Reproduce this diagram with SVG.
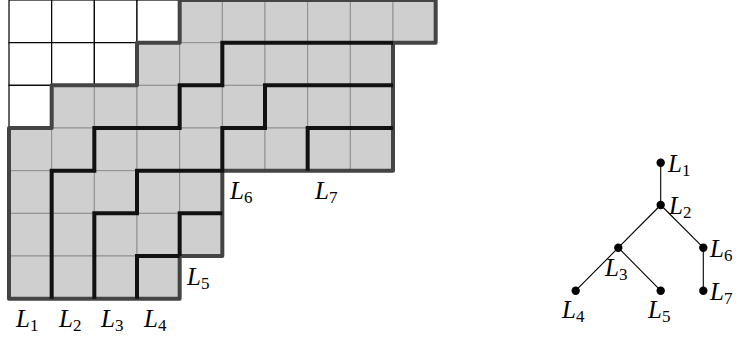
<svg xmlns="http://www.w3.org/2000/svg" width="738" height="339" viewBox="0 0 738 339">
<style>
.g{fill:#cfcfcf;stroke:#8f8f8f;stroke-width:1}
.w{fill:#fff;stroke:#000;stroke-width:1.2}
.bd{fill:none;stroke:#444;stroke-width:4;stroke-linejoin:round;stroke-linecap:round}
.pl{fill:none;stroke:#111;stroke-width:4;stroke-linejoin:miter;stroke-linecap:butt}
.lb{font-family:"Liberation Serif","DejaVu Serif",serif;font-size:25px;fill:#000}
.lb .i{font-style:italic}
.lb .s{font-size:17px}
.e{stroke:#000;stroke-width:1.1;fill:none}
.d{fill:#000}
</style>
<g id="grid">
<g id="gray-cells">
<rect class="g" x="179.67" y="0" width="42.67" height="42.67"/><rect class="g" x="222.33" y="0" width="42.67" height="42.67"/><rect class="g" x="265" y="0" width="42.67" height="42.67"/><rect class="g" x="307.67" y="0" width="42.67" height="42.67"/><rect class="g" x="350.33" y="0" width="42.67" height="42.67"/><rect class="g" x="393" y="0" width="42.67" height="42.67"/>
<rect class="g" x="137" y="42.67" width="42.67" height="42.67"/><rect class="g" x="179.67" y="42.67" width="42.67" height="42.67"/><rect class="g" x="222.33" y="42.67" width="42.67" height="42.67"/><rect class="g" x="265" y="42.67" width="42.67" height="42.67"/><rect class="g" x="307.67" y="42.67" width="42.67" height="42.67"/><rect class="g" x="350.33" y="42.67" width="42.67" height="42.67"/>
<rect class="g" x="51.67" y="85.33" width="42.67" height="42.67"/><rect class="g" x="94.33" y="85.33" width="42.67" height="42.67"/><rect class="g" x="137" y="85.33" width="42.67" height="42.67"/><rect class="g" x="179.67" y="85.33" width="42.67" height="42.67"/><rect class="g" x="222.33" y="85.33" width="42.67" height="42.67"/><rect class="g" x="265" y="85.33" width="42.67" height="42.67"/><rect class="g" x="307.67" y="85.33" width="42.67" height="42.67"/><rect class="g" x="350.33" y="85.33" width="42.67" height="42.67"/>
<rect class="g" x="9" y="128" width="42.67" height="42.67"/><rect class="g" x="51.67" y="128" width="42.67" height="42.67"/><rect class="g" x="94.33" y="128" width="42.67" height="42.67"/><rect class="g" x="137" y="128" width="42.67" height="42.67"/><rect class="g" x="179.67" y="128" width="42.67" height="42.67"/><rect class="g" x="222.33" y="128" width="42.67" height="42.67"/><rect class="g" x="265" y="128" width="42.67" height="42.67"/><rect class="g" x="307.67" y="128" width="42.67" height="42.67"/><rect class="g" x="350.33" y="128" width="42.67" height="42.67"/>
<rect class="g" x="9" y="170.67" width="42.67" height="42.67"/><rect class="g" x="51.67" y="170.67" width="42.67" height="42.67"/><rect class="g" x="94.33" y="170.67" width="42.67" height="42.67"/><rect class="g" x="137" y="170.67" width="42.67" height="42.67"/><rect class="g" x="179.67" y="170.67" width="42.67" height="42.67"/>
<rect class="g" x="9" y="213.33" width="42.67" height="42.67"/><rect class="g" x="51.67" y="213.33" width="42.67" height="42.67"/><rect class="g" x="94.33" y="213.33" width="42.67" height="42.67"/><rect class="g" x="137" y="213.33" width="42.67" height="42.67"/><rect class="g" x="179.67" y="213.33" width="42.67" height="42.67"/>
<rect class="g" x="9" y="256" width="42.67" height="42.67"/><rect class="g" x="51.67" y="256" width="42.67" height="42.67"/><rect class="g" x="94.33" y="256" width="42.67" height="42.67"/><rect class="g" x="137" y="256" width="42.67" height="42.67"/>
</g>
<g id="white-cells">
<rect class="w" x="9" y="0" width="42.67" height="42.67"/><rect class="w" x="51.67" y="0" width="42.67" height="42.67"/><rect class="w" x="94.33" y="0" width="42.67" height="42.67"/><rect class="w" x="137" y="0" width="42.67" height="42.67"/>
<rect class="w" x="9" y="42.67" width="42.67" height="42.67"/><rect class="w" x="51.67" y="42.67" width="42.67" height="42.67"/><rect class="w" x="94.33" y="42.67" width="42.67" height="42.67"/>
<rect class="w" x="9" y="85.33" width="42.67" height="42.67"/>
</g>
<path id="L1-boundary" class="bd" d="M179.67,0 H435.67 V42.67 H393 V170.67 H222.33 V256 H179.67 V298.67 H9 V128 H51.67 V85.33 H137 V42.67 H179.67 Z"/>
</g>
<g id="connectors">
<path id="L2" class="pl" d="M393,42.67 H222.33 V85.33 H179.67 V128 H94.33 V170.67 H51.67 V298.67"/>
<path id="L3" class="pl" d="M393,85.33 H265 V128 H222.33 V170.67 H137 V213.33 H94.33 V298.67"/>
<path id="L7" class="pl" d="M393,128 H307.67 V170.67"/>
<path id="L5" class="pl" d="M222.33,213.33 H179.67 V256"/>
<path id="L4" class="pl" d="M179.67,256 H137 V298.67"/>
<line class="e" x1="660.7" y1="162.7" x2="660.7" y2="205"/>
<line class="e" x1="660.7" y1="205" x2="618.3" y2="247.7"/>
<line class="e" x1="660.7" y1="205" x2="703.3" y2="247.7"/>
<line class="e" x1="618.3" y1="247.7" x2="575.7" y2="290.7"/>
<line class="e" x1="618.3" y1="247.7" x2="660.7" y2="290.7"/>
<line class="e" x1="703.3" y1="247.7" x2="703.3" y2="290.7"/>
</g>
<g id="grid-labels">
<text class="lb" x="16" y="327"><tspan class="i">L</tspan><tspan class="s" dy="4">1</tspan></text>
<text class="lb" x="59" y="327"><tspan class="i">L</tspan><tspan class="s" dy="4">2</tspan></text>
<text class="lb" x="101" y="327"><tspan class="i">L</tspan><tspan class="s" dy="4">3</tspan></text>
<text class="lb" x="144" y="327"><tspan class="i">L</tspan><tspan class="s" dy="4">4</tspan></text>
<text class="lb" x="187" y="285"><tspan class="i">L</tspan><tspan class="s" dy="4">5</tspan></text>
<text class="lb" x="230" y="199"><tspan class="i">L</tspan><tspan class="s" dy="4">6</tspan></text>
<text class="lb" x="315" y="199"><tspan class="i">L</tspan><tspan class="s" dy="4">7</tspan></text>
</g>
<g id="node-L1"><circle class="d" cx="660.7" cy="162.7" r="4.2"/><text class="lb" x="668" y="172"><tspan class="i">L</tspan><tspan class="s" dy="4">1</tspan></text></g>
<g id="node-L2"><circle class="d" cx="660.7" cy="205" r="4.2"/><text class="lb" x="669" y="214"><tspan class="i">L</tspan><tspan class="s" dy="4">2</tspan></text></g>
<g id="node-L3"><circle class="d" cx="618.3" cy="247.7" r="4.2"/><text class="lb" x="605" y="276"><tspan class="i">L</tspan><tspan class="s" dy="4">3</tspan></text></g>
<g id="node-L6"><circle class="d" cx="703.3" cy="247.7" r="4.2"/><text class="lb" x="710" y="257"><tspan class="i">L</tspan><tspan class="s" dy="4">6</tspan></text></g>
<g id="node-L4"><circle class="d" cx="575.7" cy="290.7" r="4.2"/><text class="lb" x="562" y="318"><tspan class="i">L</tspan><tspan class="s" dy="4">4</tspan></text></g>
<g id="node-L5"><circle class="d" cx="660.7" cy="290.7" r="4.2"/><text class="lb" x="648" y="318"><tspan class="i">L</tspan><tspan class="s" dy="4">5</tspan></text></g>
<g id="node-L7"><circle class="d" cx="703.3" cy="290.7" r="4.2"/><text class="lb" x="710" y="300"><tspan class="i">L</tspan><tspan class="s" dy="4">7</tspan></text></g>
</svg>
